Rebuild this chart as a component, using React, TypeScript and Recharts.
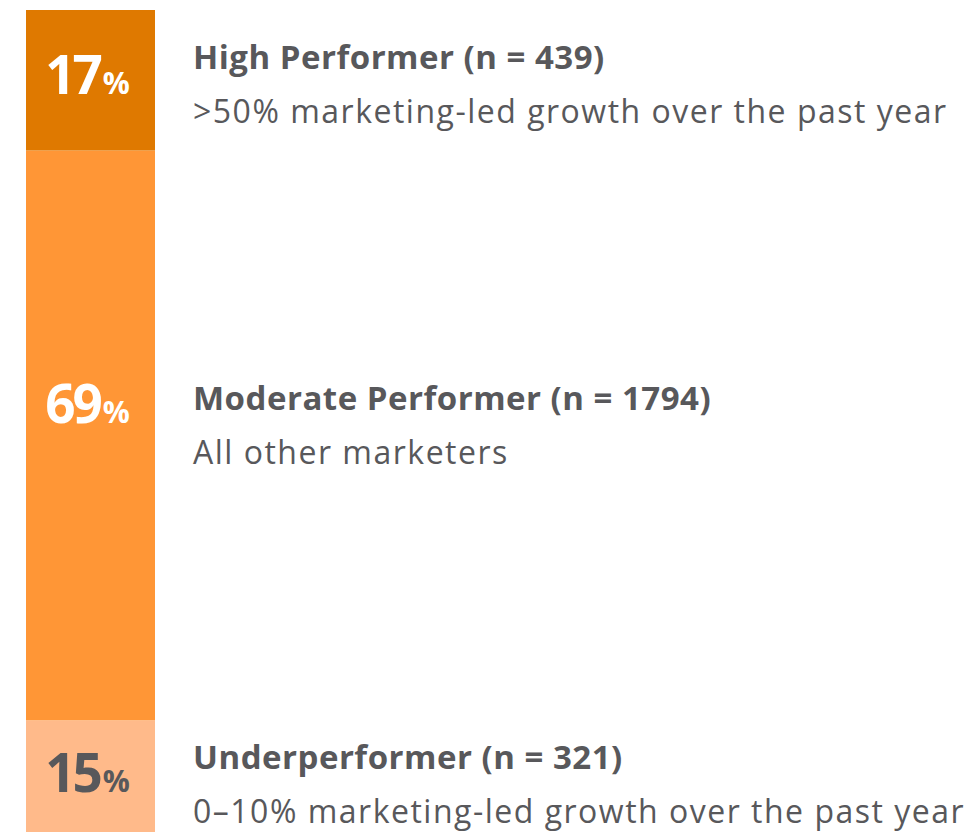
import { BarChart, Bar, XAxis, YAxis, LabelList } from 'recharts';

// stacked bottom-to-top
const segmentKeys = ['under', 'moderate', 'high'];
const shares = [15, 69, 17];
const titles = ['Underperformer (n = 321)', 'Moderate Performer (n = 1794)', 'High Performer (n = 439)'];
const subtitles = [
  '0–10% marketing-led growth over the past year',
  'All other marketers',
  '>50% marketing-led growth over the past year',
];
const colors = ['#FFBA8A', '#FF9636', '#DF7900'];
const pctColors = ['#58585B', '#FFFFFF', '#FFFFFF'];

const data = [
  Object.fromEntries([['name', 'all'], ...segmentKeys.map((k, i) => [k, shares[i]])]),
];

const FONT = '"Open Sans", Lato, sans-serif';
const TEXT = '#58585B';
// small vertical nudges from the segment centre, per segment
const titleNudge = [-13, -25, -11];
const pctNudge = [10, -12, 14];

function makeLabel(i: number) {
  return (props: any) => {
    const { x, y, width, height } = props;
    const cy = Number(y) + Number(height) / 2;
    const cx = Number(x) + Number(width) / 2 - 3;
    const tx = Number(x) + Number(width) + 38;
    const ty = cy + titleNudge[i];
    return (
      <g>
        <text x={cx} y={cy + pctNudge[i]} textAnchor="middle" fill={pctColors[i]} fontFamily={FONT} fontWeight={700}>
          <tspan fontSize={53} letterSpacing={-3}>{shares[i]}</tspan>
          <tspan fontSize={30} dx={3}>%</tspan>
        </text>
        <text x={tx} y={ty} fill={TEXT} fontFamily={FONT} fontWeight={700} fontSize={33} letterSpacing={0.5}>
          {titles[i]}
        </text>
        <text x={tx} y={ty + 54} fill={TEXT} fontFamily={FONT} fontSize={32} letterSpacing={1.5}>
          {subtitles[i]}
        </text>
      </g>
    );
  };
}

export default function App() {
  return (
    <div style={{ position: 'absolute', left: 0, top: 0, width: 979, height: 832, overflow: 'hidden', background: '#fff' }}>
      <BarChart
        width={979}
        height={844}
        data={data}
        margin={{ top: 10, right: 824, bottom: 0, left: 26 }}
        barCategoryGap={0}
      >
        <XAxis dataKey="name" hide />
        <YAxis hide domain={[0, 101]} />
        {segmentKeys.map((k, i) => (
          <Bar key={k} dataKey={k} stackId="s" fill={colors[i]} isAnimationActive={false}>
            <LabelList dataKey={k} content={makeLabel(i)} />
          </Bar>
        ))}
      </BarChart>
    </div>
  );
}
